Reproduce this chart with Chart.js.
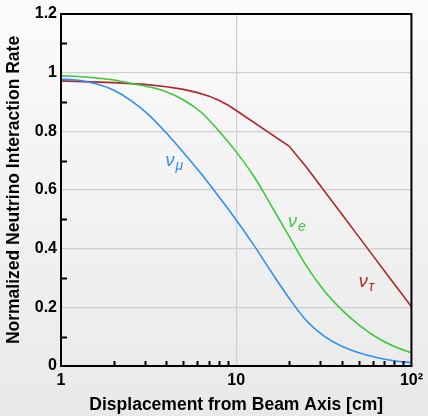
<!DOCTYPE html>
<html>
<head>
<meta charset="utf-8">
<script src="https://cdn.jsdelivr.net/npm/chart.js@4/dist/chart.umd.min.js"></script>
<style>
  html, body { margin:0; padding:0; }
  body { width:428px; height:416px; background:linear-gradient(#fbfbfb, #e9e9e9); }
  #wrap { position:relative; width:428px; height:416px; }
</style>
</head>
<body>
<div id="wrap"><canvas id="c" width="428" height="416"></canvas></div>
<script>
// values
const curveX = [1,1.26,1.58,2,2.51,3.16,3.98,5.01,6.31,7.94,10,12.6,15.8,20,25.1,31.6,39.8,50.1,63.1,79.4,100];
const muY = [0.978,0.974,0.962,0.94,0.905,0.857,0.795,0.727,0.655,0.578,0.498,0.412,0.322,0.232,0.155,0.103,0.068,0.045,0.029,0.018,0.011];
const eY  = [0.989,0.987,0.982,0.975,0.963,0.952,0.935,0.907,0.865,0.802,0.73,0.647,0.548,0.443,0.342,0.258,0.193,0.14,0.098,0.067,0.045];

const tauX = [1,2,3,4,5,6,7,8,9,10,20,25,30,40,50,60,70,80,90,100];
const tauY = [0.972,0.966,0.96,0.952,0.943,0.932,0.92,0.905,0.889,0.871,0.75,0.68,0.617,0.518,0.441,0.378,0.325,0.279,0.239,0.202];

const xMajor = [1,10,100];
const xMinor = [2,3,4,5,6,7,8,9,20,30,40,50,60,70,80,90];
const yMinor = [0.1,0.3,0.5,0.7,0.9,1.1];

const labels = [
  {sub:'\u03bc', x:4.5, y:0.70, color:'#2f8ff2'},
  {sub:'e', x:22.5, y:0.49, color:'#3cc83c'},
  {sub:'\u03c4', x:57, y:0.285, color:'#b0262b'}
];

const pts = (xs, ys) => xs.map((x, i) => ({x:x, y:ys[i]}));

const framePlugin = {
  id:'frame',
  afterDraw(chart) {
    const {ctx, chartArea:a, scales} = chart;
    ctx.save();
    ctx.strokeStyle = '#000';
    ctx.lineWidth = 2;
    ctx.beginPath();
    yMinor.forEach(v => {
      const py = Math.round(scales.y.getPixelForValue(v)) + 0.5;
      ctx.moveTo(a.left, py); ctx.lineTo(a.left + 6, py);
    });
    xMinor.forEach(v => {
      const px = Math.round(scales.x.getPixelForValue(v)) + 0.5;
      ctx.moveTo(px, a.bottom); ctx.lineTo(px, a.bottom - 5);
    });
    ctx.stroke();
    ctx.strokeRect(a.left, a.top, a.right - a.left, a.bottom - a.top);
    // curve labels
    labels.forEach(l => {
      const px = scales.x.getPixelForValue(l.x);
      const py = scales.y.getPixelForValue(l.y);
      ctx.fillStyle = l.color;
      ctx.textBaseline = 'alphabetic';
      ctx.font = 'italic 18px "Liberation Sans", Arial, sans-serif';
      ctx.fillText('\u03bd', px - 10, py + 5);
      ctx.font = 'italic 14px "Liberation Sans", Arial, sans-serif';
      ctx.fillText(l.sub, px, py + 9);
    });
    ctx.restore();
  }
};

const tickFont = {family:'"Liberation Sans", Arial, sans-serif', size:16, weight:'bold'};
const titleFont = {family:'"Liberation Sans", Arial, sans-serif', size:17.5, weight:'bold'};

new Chart(document.getElementById('c'), {
  type:'line',
  data:{
    datasets:[
      {label:'nu_mu', data:pts(curveX, muY), borderColor:'#2f8ff2', borderWidth:1.6, pointRadius:0, cubicInterpolationMode:'monotone'},
      {label:'nu_e', data:pts(curveX, eY), borderColor:'#3cc83c', borderWidth:1.6, pointRadius:0, cubicInterpolationMode:'monotone'},
      {label:'nu_tau', data:pts(tauX, tauY), borderColor:'#b0262b', borderWidth:1.6, pointRadius:0, tension:0}
    ]
  },
  options:{
    responsive:false,
    animation:false,
    events:[],
    layout:{padding:{top:14, right:15, left:0, bottom:0}},
    plugins:{legend:{display:false}, tooltip:{enabled:false}},
    scales:{
      x:{
        type:'logarithmic', min:1, max:100,
        afterBuildTicks: s => { s.ticks = xMajor.map(v => ({value:v})); },
        afterFit: s => { s.height = 50; },
        ticks:{
          color:'#000', font:tickFont, padding:5, maxRotation:0, autoSkip:false,
          callback: v => v === 100 ? '10\u00b2' : String(v)
        },
        grid:{
          drawTicks:false, lineWidth:1.2,
          color: c => (c.tick && c.tick.value === 10) ? '#cfcfcf' : 'rgba(0,0,0,0)'
        },
        border:{display:true, color:'#000', width:2},
        title:{display:true, text:'Displacement from Beam Axis [cm]', color:'#000', font:titleFont, padding:{top:4, bottom:0}}
      },
      y:{
        min:0, max:1.2,
        afterFit: s => { s.width = 61; },
        ticks:{stepSize:0.2, color:'#000', font:tickFont, padding:4, callback: v => String(+v.toFixed(1))},
        grid:{
          drawTicks:false, lineWidth:1.2,
          color: c => (c.tick && c.tick.value > 0.01 && c.tick.value < 1.19) ? '#cfcfcf' : 'rgba(0,0,0,0)'
        },
        border:{display:true, color:'#000', width:2},
        title:{display:true, text:'Normalized Neutrino Interaction Rate', color:'#000', font:titleFont, padding:{bottom:2}}
      }
    }
  },
  plugins:[framePlugin]
});
</script>
</body>
</html>
